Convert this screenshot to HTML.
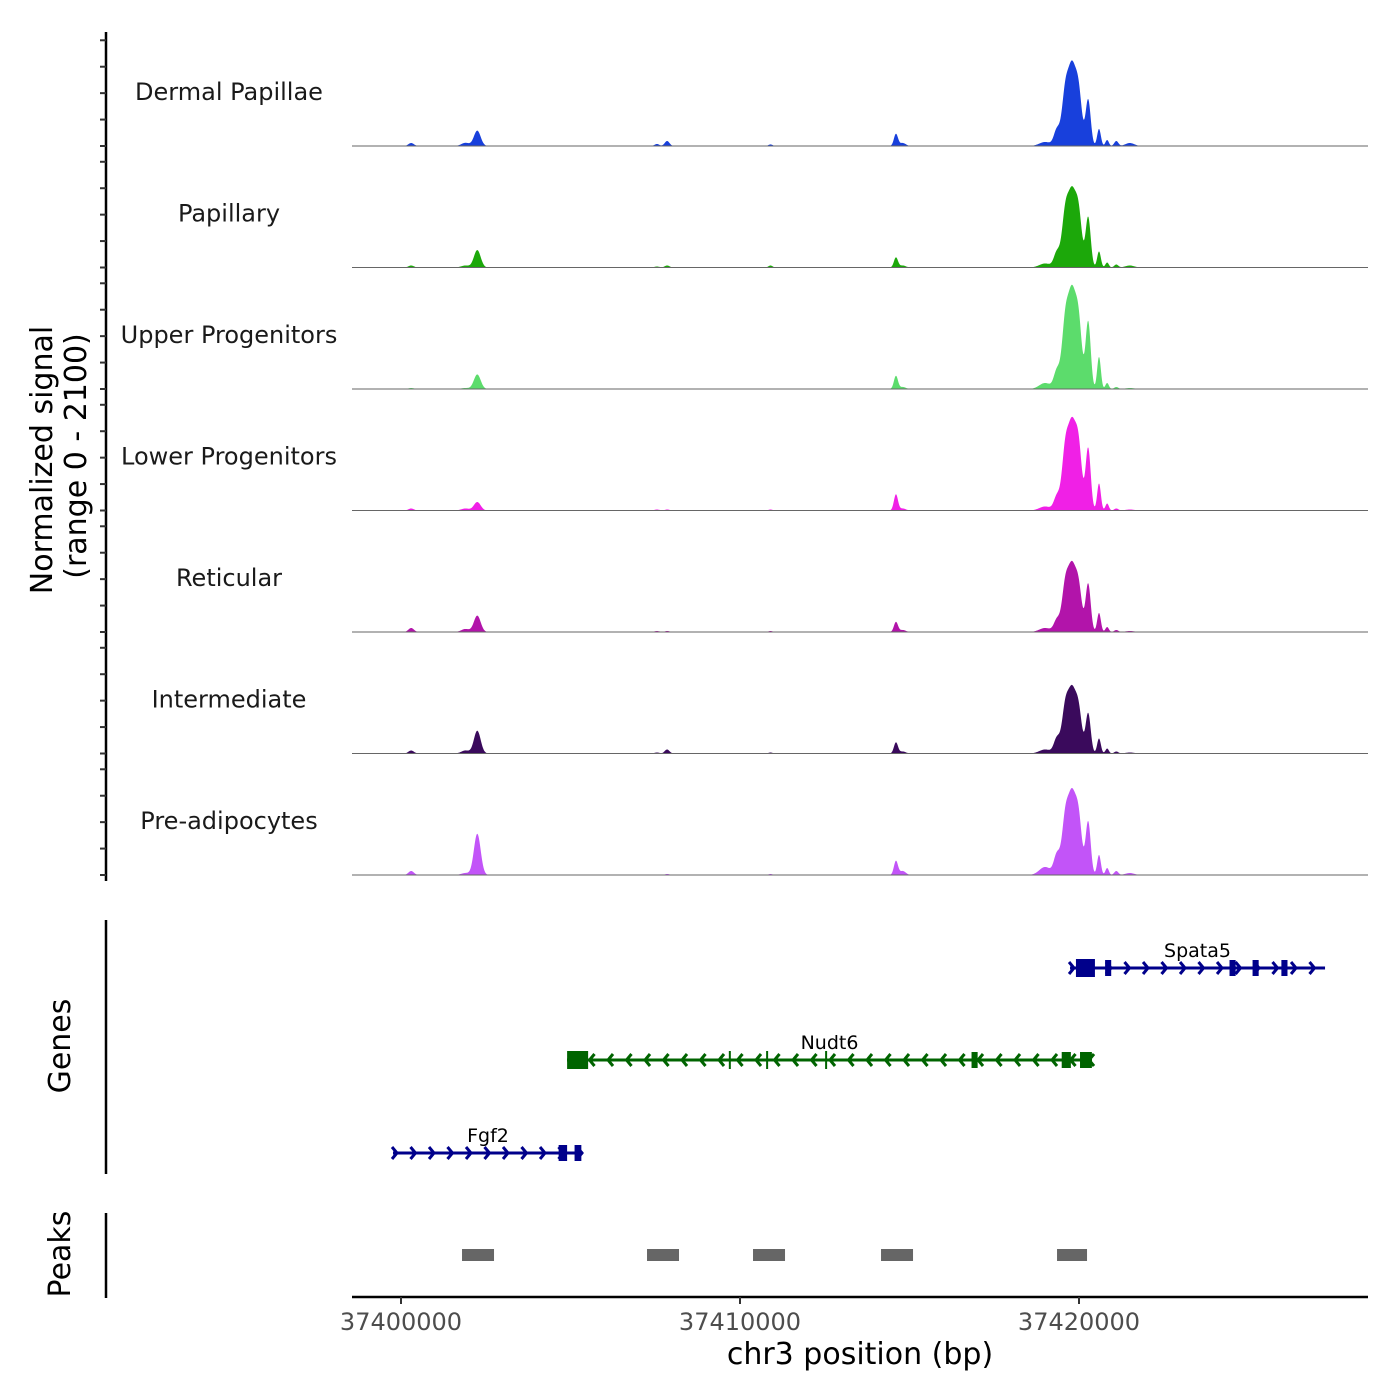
<!DOCTYPE html>
<html><head><meta charset="utf-8"><style>
html,body{margin:0;padding:0;background:#fff;}
svg{display:block;font-family:"DejaVu Sans","Liberation Sans",sans-serif;}
</style></head><body>
<svg id="chart" width="1400" height="1400" viewBox="0 0 1400 1400" xmlns="http://www.w3.org/2000/svg">
<rect width="1400" height="1400" fill="#fff"/>
<g id="tracks"></g>
<g id="genes"></g>
<g id="peaks"></g>
<g id="axes"></g>
</svg>
<script>
const trackNames = ["Dermal Papillae","Papillary","Upper Progenitors","Lower Progenitors","Reticular","Intermediate","Pre-adipocytes"];
const trackColors = ["#1840dc","#1ca80a","#5cdc6c","#f020e6","#b214aa","#3a0a5c","#c254f8"];
const peakPos = [37400300,37401900,37402250,37407550,37407850,37410900,37414600,37414800,37419000,37419350,37419600,37419790,37419980,37420270,37420590,37420830,37421100,37421500];
const peakSigma = [80,120,100,70,70,60,60,90,170,90,100,100,100,75,55,50,60,130];
const sigDP = [57,60,290,38,95,30,228,57,76,304,1050,1270,1075,874,323,114,95,57];
const sigPap = [38,38,330,19,38,38,190,38,76,285,1050,1190,1075,950,304,95,57,38];
const sigUpper = [19,19,275,0,0,0,247,38,114,342,1300,1540,1330,1273,608,114,38,19];
const sigLower = [38,38,160,19,19,19,304,38,76,266,1180,1370,1260,1178,513,133,38,19];
const sigRet = [76,57,310,19,19,19,190,38,76,228,910,1050,890,912,361,95,38,19];
const sigInt = [57,57,430,19,76,19,209,38,76,285,890,1010,860,760,285,95,38,19];
const sigPre = [76,38,780,0,19,19,266,76,152,380,1100,1280,1125,1007,380,133,76,38];
const yTicks = [0,500,1000,1500,2000];
const xTicks = [37400000,37410000,37420000];
const peakRegions = [[37401800,37402744],[37407257,37408201],[37410384,37411328],[37414160,37415104],[37419352,37420237]];
const genes = [
 {name:"Spata5",start:37419735,end:37427258,strand:1,row:0,color:"#00008b",
  exons:[[37419910,37420470],[37420770,37420950],[37424440,37424620],[37425120,37425300],[37425970,37426150]],thin:[]},
 {name:"Nudt6",start:37404897,end:37420384,strand:-1,row:1,color:"#006400",
  exons:[[37404900,37405520],[37416830,37417010],[37419490,37419760],[37420030,37420380]],thin:[37409700,37410800,37412540]},
 {name:"Fgf2",start:37399764,end:37405369,strand:1,row:2,color:"#00008b",
  exons:[[37404650,37404900],[37405120,37405320]],thin:[]}
];
const allSig=[sigDP,sigPap,sigUpper,sigLower,sigRet,sigInt,sigPre];
const NS="http://www.w3.org/2000/svg";
const X0=352,X1=1368;
function xs(bp){return 401+(bp-37400000)*0.0339;}
const trackH=121.5, base0=146, yMax=2100, yPix=111;
function ys(v,i){return base0+i*trackH - v/yMax*yPix;}
function mk(tag,attrs,parent){const e=document.createElementNS(NS,tag);for(const k in attrs)e.setAttribute(k,attrs[k]);parent.appendChild(e);return e;}
const gT=document.getElementById('tracks');
allSig.forEach((sig,i)=>{
  let d="M"+X0+","+ys(0,i);
  for(let px=X0;px<=X1;px+=0.5){
    const bp=37400000+(px-401)/0.0339;
    let v=0;
    for(let k=0;k<peakPos.length;k++){const z=(bp-peakPos[k])/peakSigma[k];if(Math.abs(z)<6)v+=sig[k]*Math.exp(-z*z/2);}
    d+="L"+px.toFixed(1)+","+ys(v,i).toFixed(2);
  }
  d+="L"+X1+","+ys(0,i)+"Z";
  const p=mk('path',{d:d,fill:trackColors[i]},gT);
  
  
  const l=mk('line',{x1:X0,x2:X1,y1:ys(0,i),y2:ys(0,i),stroke:'#666',"stroke-width":1},gT);
  
  
  const t=mk('text',{x:229,y:base0+i*trackH-46,"text-anchor":"middle","font-size":"24",fill:"#1a1a1a"},gT);
  t.textContent=trackNames[i];
  
  
});
const gA=document.getElementById('axes');
let l1=mk('line',{x1:106,x2:106,y1:32,y2:881,stroke:'#000',"stroke-width":2.5},gA);


allSig.forEach((s,i)=>{yTicks.forEach(v=>{
  const t=mk('line',{x1:100,x2:106,y1:ys(v,i),y2:ys(v,i),stroke:'#333',"stroke-width":2},gA);
  
  
});});
let yt=mk('text',{transform:"translate(52,460) rotate(-90)","text-anchor":"middle","font-size":"30",fill:"#000"},gA);
yt.textContent="Normalized signal";


let yt2=mk('text',{transform:"translate(86,456) rotate(-90)","text-anchor":"middle","font-size":"30",fill:"#000"},gA);
yt2.textContent="(range 0 - 2100)";


const gG=document.getElementById('genes');
let gl=mk('line',{x1:106,x2:106,y1:920,y2:1174,stroke:'#000',"stroke-width":2.5},gG);


let gtt=mk('text',{transform:"translate(70,1046) rotate(-90)","text-anchor":"middle","font-size":"30",fill:"#000"},gG);
gtt.textContent="Genes";


const rowY=[968,1060,1153];
genes.forEach(g=>{
  const y=rowY[g.row];
  const grp=mk('g',{},gG);
  
  
  const x1=xs(g.start),x2=xs(g.end);
  mk('line',{x1:x1,x2:x2,y1:y,y2:y,stroke:g.color,"stroke-width":3},grp);
  for(let ax=x1+4;ax<x2;ax+=18.5){
    const dx=g.strand>0?-5:5;
    mk('polyline',{points:(ax+dx)+","+(y-6)+" "+ax+","+y+" "+(ax+dx)+","+(y+6),fill:'none',stroke:g.color,"stroke-width":3},grp);
  }
  g.thin.forEach(b=>{mk('line',{x1:xs(b),x2:xs(b),y1:y-9,y2:y+9,stroke:g.color,"stroke-width":2},grp);});
  g.exons.forEach(e=>{
    const w=xs(e[1])-xs(e[0]);
    mk('rect',{x:xs(e[0]),y:y-(w>12?9:8),width:w,height:(w>12?18:16),fill:g.color},grp);
  });
  const t=mk('text',{x:(x1+x2)/2,y:y-11,"text-anchor":"middle","font-size":"19",fill:"#000"},grp);
  t.textContent=g.name;
  
  
});
const gP=document.getElementById('peaks');
let pl=mk('line',{x1:106,x2:106,y1:1213,y2:1298,stroke:'#000',"stroke-width":2.5},gP);


let ptt=mk('text',{transform:"translate(70,1254) rotate(-90)","text-anchor":"middle","font-size":"30",fill:"#000"},gP);
ptt.textContent="Peaks";


peakRegions.forEach(r=>{
  const rc=mk('rect',{x:xs(r[0]),y:1249,width:xs(r[1])-xs(r[0]),height:12,fill:'#666'},gP);
  
  
});
let xl=mk('line',{x1:X0,x2:X1,y1:1297,y2:1297,stroke:'#000',"stroke-width":2.5},gA);


xTicks.forEach(v=>{
  const t=mk('line',{x1:xs(v),x2:xs(v),y1:1297,y2:1304,stroke:'#333',"stroke-width":2},gA);
  
  
  const tx=mk('text',{x:xs(v),y:1330,"text-anchor":"middle","font-size":"24",fill:"#4d4d4d"},gA);
  tx.textContent=String(v);
  
  
});
let xt=mk('text',{x:860,y:1364,"text-anchor":"middle","font-size":"30",fill:"#000"},gA);
xt.textContent="chr3 position (bp)";


</script>
</body></html>
